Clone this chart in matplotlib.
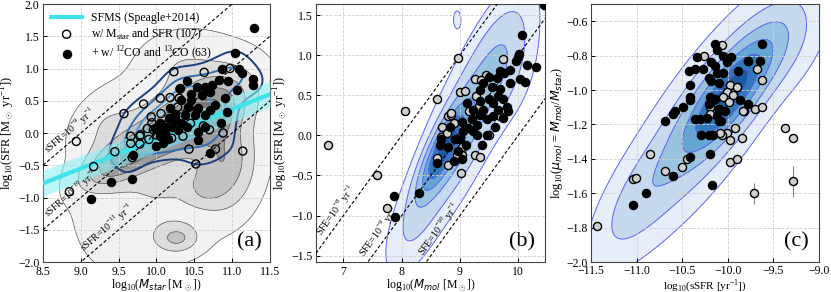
import numpy as np
import matplotlib
matplotlib.use('Agg')
import matplotlib.pyplot as plt

plt.rcParams['font.family'] = ['Liberation Serif', 'DejaVu Serif']
plt.rcParams['mathtext.fontset'] = 'custom'
plt.rcParams['mathtext.rm'] = 'Liberation Serif'
plt.rcParams['mathtext.it'] = 'DejaVu Sans:italic'
plt.rcParams['mathtext.bf'] = 'Liberation Serif:bold'

#%% panel (a): stellar mass vs SFR
a_open_x = [8.94, 9.57, 9.83, 10.23, 10.63, 10.97, 10.31, 10.18, 10.05, 10.30, 10.28, 10.54,
            10.06, 9.93, 9.79, 9.66, 9.78, 9.88, 9.96, 10.00, 9.90, 9.66, 9.78, 9.45, 9.68,
            9.17, 8.85, 10.43, 10.78, 11.14, 10.52, 10.62, 10.88, 10.12, 10.20, 10.45, 10.35,
            9.94, 10.25, 10.70]
a_open_y = [-0.13, 0.30, 0.45, 0.95, 0.94, 1.00, 0.68, 0.55, 0.54, 0.54, 0.40, 0.36,
            0.30, 0.25, -0.03, -0.05, -0.05, 0.07, 0.05, -0.03, -0.10, -0.16, -0.17, -0.29, -0.38,
            -0.52, -0.91, -0.25, -0.25, -0.28, -0.48, 0.11, 0.00, 0.12, -0.08, 0.15, -0.05,
            0.16, 0.25, 0.05]
a_fill_x = [11.29, 11.04, 10.87, 11.09, 11.13, 11.27, 11.28, 11.07, 10.94, 10.82, 10.73, 10.40,
            10.53, 10.64, 10.71, 10.60, 10.46, 10.31, 10.32, 10.42, 10.55, 10.71, 10.77, 10.91,
            10.93, 10.24, 10.38, 10.51, 10.64, 10.16, 10.24, 10.33, 10.20, 10.11, 10.02, 10.11,
            10.55, 10.64, 10.55, 10.71, 10.00, 10.08, 9.69, 9.40, 9.68, 9.13, 9.98, 10.05,
            10.15, 10.28, 10.40, 10.05, 10.18, 10.85, 10.45]
a_fill_y = [1.63, 1.24, 0.99, 1.00, 0.93, 0.83, 0.75, 0.67, 0.80, 0.82, 0.74, 0.80,
            0.72, 0.72, 0.64, 0.59, 0.51, 0.69, 0.51, 0.41, 0.38, 0.36, 0.43, 0.54,
            0.33, 0.30, 0.28, 0.28, 0.28, 0.23, 0.20, 0.15, 0.10, 0.10, 0.05, 0.00,
            0.02, 0.10, -0.11, -0.31, -0.20, -0.15, -0.34, -0.76, -0.72, -1.02, 0.08, -0.05,
            -0.10, 0.05, 0.10, 0.15, 0.38, 0.15, 0.60]

# parent-sample density in (a), approximated by blobs
gray_mx = [9.50, 10.15, 10.75, 10.90, 10.65, 10.27, 10.20, 10.30, 9.30]
gray_my = [-0.45, 0.00, 0.45, -0.45, -0.85, -1.63, -0.40, 1.10, 0.15]
gray_sx = [0.30, 0.42, 0.35, 0.25, 0.15, 0.18, 0.80, 0.35, 0.30]
gray_sy = [0.25, 0.32, 0.35, 0.45, 0.15, 0.14, 1.10, 0.30, 0.35]
gray_rho = [0.6, 0.6, 0.3, 0.0, 0.0, 0.0, 0.4, 0.0, 0.3]
gray_w = [0.55, 0.60, 0.45, 0.40, 0.20, 0.32, 0.22, 0.10, 0.12]
gray_levels = [0.06, 0.2, 0.38, 0.58, 0.8, 1.01]
gray_cols = ['#f2f2f2', '#dcdcdc', '#c2c2c2', '#9c9c9c', '#7a7a7a']

blue_levels = [0.12, 0.3, 0.5, 0.7, 0.88]
blue_cols = ['#1c3f7e', '#2f6fb5', '#4e95d3', '#8cc3ec', '#e2f1fc']

sfms_slope = 0.46
sfms_at10 = -0.09
sfms_scatter = 0.2
ssfr_lines = [-9, -10, -11]
ssfr_lab_x = [8.60, 8.60, 9.08]

#%% panel (b): molecular mass vs SFR
b_open_x = [6.73, 7.57, 8.05, 7.74, 8.61, 8.96, 9.00, 9.09, 8.80, 8.85, 8.69, 8.67, 9.74,
            9.26, 9.45, 9.36, 9.28, 9.32, 9.49, 9.68, 9.03, 8.60, 9.03, 8.95, 8.80, 9.26,
            9.34, 9.01, 8.77, 8.85, 9.00, 9.15, 8.90]
b_open_y = [-0.12, -0.50, 0.31, -0.91, 0.46, 0.97, 0.54, 0.56, 0.24, 0.26, 0.10, -0.02, 0.95,
            0.70, 0.76, 0.69, 0.49, 0.37, 0.01, 0.24, -0.14, -0.28, -0.24, -0.24, -0.37, -0.24,
            -0.27, -0.47, 0.03, 0.28, -0.02, 0.30, 0.15]
b_fill_x = [10.45, 10.07, 10.02, 9.99, 10.31, 10.15, 9.97, 9.69, 9.86, 10.03, 10.12, 9.86,
            9.63, 9.75, 9.49, 9.40, 9.34, 9.55, 9.69, 9.74, 9.80, 9.83, 9.66, 9.57, 9.49,
            9.34, 9.40, 9.66, 9.74, 9.57, 9.46, 9.34, 9.23, 9.20, 9.29, 9.14, 9.03, 9.06,
            9.23, 9.46, 8.83, 8.92, 8.80, 9.00, 8.66, 8.68, 9.10, 9.37, 8.97, 9.03, 8.60,
            8.89, 8.29, 7.86, 7.89, 9.30, 9.12, 9.60]
b_fill_y = [1.63, 1.25, 1.02, 0.98, 0.86, 0.88, 0.93, 0.80, 0.82, 0.70, 0.67, 0.65,
            0.72, 0.78, 0.73, 0.65, 0.57, 0.60, 0.58, 0.45, 0.36, 0.30, 0.49, 0.40, 0.45,
            0.43, 0.32, 0.32, 0.22, 0.24, 0.20, 0.26, 0.32, 0.20, 0.13, 0.09, 0.17, 0.05,
            0.05, 0.01, 0.11, -0.05, -0.14, -0.05, -0.12, -0.05, -0.12, -0.12, -0.20, -0.30, -0.34,
            -0.32, -0.72, -0.75, -1.02, 0.01, 0.40, 0.10]

b_mx = [8.72, 9.15, 9.80, 8.95, 8.20]
b_my = [-0.18, 0.25, 0.90, 1.45, -1.10]
b_sx = [0.25, 0.52, 0.32, 0.08, 0.30]
b_sy = [0.33, 0.75, 0.45, 0.14, 0.40]
b_rho = [0.8, 0.82, 0.3, 0.0, 0.6]
b_w = [1.0, 0.40, 0.11, 0.05, 0.10]
sfe_lines = [-8, -9, -10]
sfe_lab_x = [6.68, 7.42, 8.43]

#%% panel (c): sSFR vs molecular gas fraction
c_open_x = [-11.43, -11.04, -11.01, -10.85, -10.69, -10.50, -10.45, -9.98, -9.90, -9.71, -9.28,
            -9.37, -9.28, -10.01, -9.98, -9.92, -9.85, -10.06, -9.82, -10.06, -10.26, -9.78,
            -9.68, -9.63, -9.98, -9.90, -10.01, -9.94, -10.05, -9.99, -10.20, -10.20, -9.83,
            -9.70, -9.63, -10.09]
c_open_y = [-1.79, -1.52, -1.51, -1.37, -1.47, -1.45, -1.40, -1.42, -1.40, -1.60, -1.53,
            -1.22, -1.28, -1.25, -1.29, -1.22, -1.28, -1.26, -1.12, -0.74, -0.80, -0.83,
            -0.88, -0.94, -0.97, -0.98, -1.01, -1.03, -1.04, -1.07, -1.10, -1.14, -1.12,
            -1.11, -1.10, -1.25]
c_open_yerr = [0.0] * 9 + [0.06, 0.09] + [0.0] * 25
c_fill_x = [-10.14, -9.63, -10.12, -10.34, -10.05, -9.96, -10.18, -10.01, -9.78, -9.65, -10.43,
            -10.36, -10.27, -10.14, -10.12, -10.05, -10.21, -10.18, -10.10, -10.42, -10.41,
            -10.41, -10.20, -10.16, -10.21, -10.49, -10.14, -9.87, -9.78, -10.58, -10.60,
            -10.10, -10.03, -10.12, -10.69, -10.36, -10.30, -10.23, -10.10, -10.29, -10.21,
            -10.16, -9.89, -10.19, -10.41, -10.60, -10.90, -11.04, -10.17, -10.07]
c_fill_y = [-0.73, -0.73, -0.77, -0.81, -0.80, -0.81, -0.84, -0.84, -0.83, -0.83, -0.89,
            -0.88, -0.88, -0.86, -0.90, -0.90, -0.93, -0.95, -0.96, -0.97, -1.04,
            -1.06, -1.04, -1.06, -1.08, -1.10, -1.05, -1.06, -1.08, -1.12, -1.14,
            -1.11, -1.12, -1.15, -1.18, -1.17, -1.17, -1.16, -1.18, -1.26, -1.26,
            -1.26, -0.89, -1.37, -1.39, -1.50, -1.60, -1.67, -1.55, -1.18]

c_mx = [-9.98, -10.20, -11.00, -9.40]
c_my = [-1.02, -1.15, -1.65, -0.75]
c_sx = [0.30, 0.56, 0.30, 0.30]
c_sy = [0.20, 0.40, 0.22, 0.18]
c_rho = [0.8, 0.82, 0.7, 0.5]
c_w = [1.0, 0.32, 0.12, 0.10]

blues_levels = [0.03, 0.1, 0.22, 0.4, 0.6, 0.82, 1.01]
blues_cols = ['#e6eef9', '#c6daef', '#98c4e2', '#64a5d4', '#3179ba', '#1a5a9f']


def blobs(X, Y, mx, my, sx, sy, rho, w):
    Z = np.zeros_like(X)
    for a, b, c, d, r, k in zip(mx, my, sx, sy, rho, w):
        u = (X - a) / c
        v = (Y - b) / d
        Z += k * np.exp(-(u*u - 2*r*u*v + v*v) / (2*(1 - r*r)))
    return Z / Z.max()


def kde(X, Y, px, py, bw):
    Z = np.zeros_like(X)
    for a, b in zip(px, py):
        Z += np.exp(-((X - a)**2 + (Y - b)**2) / (2*bw**2))
    return Z / Z.max()


def style(ax, xpad=3):
    ax.grid(True, ls='--', color='#cfcfcf', lw=0.6)
    ax.tick_params(labelsize=8.5, direction='in', length=3, width=0.7)
    ax.tick_params(axis='x', pad=xpad)
    ax.tick_params(axis='y', pad=2.5)
    for s in ax.spines.values():
        s.set_color('#444444')
        s.set_linewidth(0.8)


def points(ax, ox, oy, fx, fy, oface):
    ax.scatter(ox, oy, s=34, facecolors=oface, edgecolors='k', linewidths=1.0, zorder=5,
               label=r'w/ M$_{\rm star}$ and SFR (107)')
    ax.scatter(fx, fy, s=34, color='k', zorder=6,
               label=r'+ w/ $^{12}$CO and $^{13}$CO (63)')


fig = plt.figure(figsize=(8.31, 2.92), dpi=100)
axa = fig.add_axes([0.0517, 0.1027, 0.2732, 0.8836])
axb = fig.add_axes([0.3803, 0.1027, 0.2756, 0.8836])
axc = fig.add_axes([0.7112, 0.1027, 0.2744, 0.8836])

#%% (a)
xa = np.linspace(8.5, 11.5, 300)
ya = np.linspace(-2.0, 2.0, 300)
X, Y = np.meshgrid(xa, ya)
Zg = blobs(X, Y, gray_mx, gray_my, gray_sx, gray_sy, gray_rho, gray_w)
axa.contourf(X, Y, Zg, levels=gray_levels, colors=gray_cols, zorder=1)
axa.contour(X, Y, Zg, levels=gray_levels[:-1], colors='#5a5a5a', linewidths=0.5, zorder=1.2)
Zk = kde(X, Y, a_open_x + a_fill_x, a_open_y + a_fill_y, 0.18)
axa.contour(X, Y, Zk, levels=blue_levels, colors=blue_cols, linewidths=1.4, zorder=2)

xs = np.array([8.5, 11.5])
ys = sfms_slope * (xs - 10) + sfms_at10
axa.fill_between(xs, ys - sfms_scatter, ys + sfms_scatter, color='#8ef1f6', alpha=0.6,
                 lw=0, zorder=3)
axa.plot(xs, ys, color='#3fe3ec', lw=3, zorder=3.1, label='SFMS (Speagle+2014)')
for k, x0 in zip(ssfr_lines, ssfr_lab_x):
    axa.plot(xs, xs + k, color='k', ls=(0, (3, 2)), lw=0.8, zorder=4)
    axa.text(x0, x0 + k + 0.03, r'sSFR=10$^{%d}$ yr$^{-1}$' % k, fontsize=7,
             rotation=45, transform_rotates_text=True, rotation_mode='anchor',
             ha='left', va='bottom', zorder=4)
points(axa, a_open_x, a_open_y, a_fill_x, a_fill_y, 'none')
axa.set_xlim(8.5, 11.5)
axa.set_ylim(-2.0, 2.0)
axa.set_xticks(np.arange(8.5, 11.51, 0.5))
axa.set_yticks(np.arange(-2.0, 2.01, 0.5))
axa.set_xlabel(r'log$_{10}$($M_{star}$ [M$_\odot$])', fontsize=8.5, labelpad=-1)
axa.set_ylabel(r'log$_{10}$(SFR [M$_\odot$ yr$^{-1}$])', fontsize=9, labelpad=0.5)
axa.legend(loc='upper left', frameon=False, fontsize=8.5, handlelength=2.6,
           labelspacing=0.2, borderaxespad=0.3, handletextpad=0.8)
axa.text(0.965, 0.04, '(a)', transform=axa.transAxes, fontsize=16, ha='right', va='bottom')
style(axa)

#%% (b)
xb = np.linspace(6.53, 10.46, 300)
yb = np.linspace(-1.58, 1.64, 300)
X, Y = np.meshgrid(xb, yb)
Zb = blobs(X, Y, b_mx, b_my, b_sx, b_sy, b_rho, b_w)
axb.contourf(X, Y, Zb, levels=blues_levels, colors=blues_cols, zorder=1)
axb.contour(X, Y, Zb, levels=blues_levels[:-1], colors='#6464f0', linewidths=0.7, zorder=1.2)
xs = np.array([6.53, 10.46])
for k, x0 in zip(sfe_lines, sfe_lab_x):
    axb.plot(xs, xs + k, color='k', ls=(0, (3, 2)), lw=0.8, zorder=4)
    axb.text(x0, x0 + k + 0.03, r'SFE=10$^{%d}$ yr$^{-1}$' % k, fontsize=7,
             rotation=45, transform_rotates_text=True, rotation_mode='anchor',
             ha='left', va='bottom', zorder=4)
points(axb, b_open_x, b_open_y, b_fill_x, b_fill_y, '#cfcfcf')
axb.set_xlim(6.53, 10.46)
axb.set_ylim(-1.58, 1.64)
axb.set_xticks([7, 8, 9, 10])
axb.set_yticks(np.arange(-1.5, 1.51, 0.5))
axb.set_xlabel(r'log$_{10}$($M_{mol}$ [M$_\odot$])', fontsize=8.5, labelpad=-1)
axb.set_ylabel(r'log$_{10}$(SFR [M$_\odot$ yr$^{-1}$])', fontsize=9, labelpad=0.5)
axb.text(0.955, 0.04, '(b)', transform=axb.transAxes, fontsize=16, ha='right', va='bottom')
style(axb)

#%% (c)
xc = np.linspace(-11.5, -9.0, 300)
yc = np.linspace(-2.0, -0.5, 300)
X, Y = np.meshgrid(xc, yc)
Zc = blobs(X, Y, c_mx, c_my, c_sx, c_sy, c_rho, c_w)
axc.contourf(X, Y, Zc, levels=blues_levels, colors=blues_cols, zorder=1)
axc.contour(X, Y, Zc, levels=blues_levels[:-1], colors='#6464f0', linewidths=0.7, zorder=1.2)
axc.errorbar(c_open_x, c_open_y, yerr=c_open_yerr, fmt='none', ecolor='#888888',
             elinewidth=0.8, zorder=4)
points(axc, c_open_x, c_open_y, c_fill_x, c_fill_y, '#cfcfcf')
axc.set_xlim(-11.5, -9.0)
axc.set_ylim(-2.0, -0.5)
axc.set_xticks(np.arange(-11.5, -8.99, 0.5))
axc.set_yticks(np.arange(-2.0, -0.59, 0.2))
axc.set_xlabel(r'log$_{10}$(sSFR [yr$^{-1}$])', fontsize=8, labelpad=0)
axc.set_ylabel(r'log$_{10}$($\mu_{mol}$ = $M_{mol}/M_{star}$)', fontsize=9, labelpad=0.5)
axc.text(0.955, 0.04, '(c)', transform=axc.transAxes, fontsize=16, ha='right', va='bottom')
style(axc, xpad=2)

fig.savefig('out.png', dpi=100)
